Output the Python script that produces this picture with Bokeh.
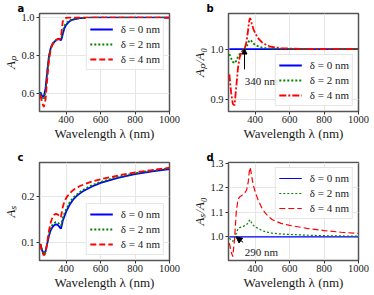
from bokeh.plotting import figure
from bokeh.layouts import gridplot
from bokeh.models import (Range1d, FixedTicker, NumeralTickFormatter, Legend, LegendItem,
                          Label, Arrow, NormalHead)
from bokeh.embed import file_html
from bokeh.resources import INLINE

# ---------------- data ----------------
wavelength = [250, 260, 270, 280, 290, 300, 310, 320, 330, 340, 350, 360, 365, 370, 375,
              380, 390, 400, 420, 440, 460, 480, 500, 550, 600, 700, 800, 900, 1000]

# panel a: A_p
ap_d0 = [0.605, 0.585, 0.582, 0.625, 0.715, 0.795, 0.838, 0.860, 0.871, 0.879, 0.885, 0.886,
         0.882, 0.881, 0.893, 0.912, 0.945, 0.962, 0.981, 0.990, 0.994, 0.997, 0.998, 0.9995,
         1.0, 1.0, 1.0, 1.0, 1.0]
ap_d2 = [0.600, 0.575, 0.566, 0.605, 0.705, 0.795, 0.840, 0.862, 0.873, 0.880, 0.886, 0.888,
         0.886, 0.890, 0.905, 0.928, 0.957, 0.971, 0.986, 0.993, 0.996, 0.998, 0.999, 1.0,
         1.0, 1.0, 1.0, 1.0, 1.0]
ap_d4 = [0.590, 0.550, 0.527, 0.565, 0.675, 0.775, 0.832, 0.857, 0.870, 0.880, 0.887, 0.889,
         0.887, 0.900, 0.940, 0.980, 0.996, 0.999, 1.0, 1.0, 1.0, 1.0, 1.0, 1.0,
         1.0, 1.0, 1.0, 1.0, 1.0]

# panel b: A_p / A_0
rp_d0 = [1.0] * 29
rp_d2 = [0.990, 0.982, 0.975, 0.972, 0.977, 0.985, 0.990, 0.994, 0.997, 1.000, 1.005, 1.012,
         1.016, 1.018, 1.017, 1.015, 1.011, 1.008, 1.005, 1.003, 1.002, 1.0015, 1.001, 1.0005,
         1.0, 1.0, 1.0, 1.0, 1.0]
rp_d4 = [0.950, 0.915, 0.892, 0.889, 0.925, 0.963, 0.984, 0.993, 0.998, 1.002, 1.015, 1.040,
         1.055, 1.061, 1.057, 1.050, 1.039, 1.031, 1.020, 1.013, 1.009, 1.006, 1.004, 1.002,
         1.001, 1.0, 1.0, 1.0, 1.0]

# panel c: A_s
as_d0 = [0.097, 0.083, 0.077, 0.081, 0.098, 0.115, 0.127, 0.134, 0.138, 0.140, 0.139, 0.135,
         0.132, 0.131, 0.139, 0.148, 0.158, 0.168, 0.183, 0.194, 0.202, 0.208, 0.213, 0.223,
         0.231, 0.242, 0.250, 0.256, 0.261]
as_d2 = [0.097, 0.082, 0.075, 0.080, 0.099, 0.118, 0.131, 0.139, 0.143, 0.145, 0.144, 0.141,
         0.138, 0.137, 0.145, 0.154, 0.164, 0.173, 0.188, 0.198, 0.205, 0.211, 0.216, 0.226,
         0.233, 0.244, 0.252, 0.258, 0.263]
as_d4 = [0.097, 0.080, 0.072, 0.077, 0.101, 0.126, 0.144, 0.155, 0.161, 0.163, 0.162, 0.158,
         0.155, 0.157, 0.168, 0.178, 0.190, 0.198, 0.208, 0.215, 0.220, 0.224, 0.227, 0.234,
         0.239, 0.247, 0.254, 0.259, 0.264]

# panel d: A_s / A_0
rs_d0 = [1.0] * 29
rs_d2 = [0.995, 0.986, 0.982, 0.995, 1.015, 1.033, 1.038, 1.040, 1.043, 1.046, 1.050, 1.058,
         1.066, 1.070, 1.064, 1.056, 1.047, 1.041, 1.033, 1.026, 1.021, 1.018, 1.015, 1.012,
         1.010, 1.007, 1.005, 1.004, 1.003]
rs_d4 = [0.975, 0.940, 0.920, 0.990, 1.100, 1.152, 1.163, 1.168, 1.173, 1.180, 1.190, 1.225,
         1.262, 1.283, 1.268, 1.245, 1.208, 1.183, 1.145, 1.116, 1.096, 1.081, 1.070, 1.055,
         1.047, 1.035, 1.026, 1.019, 1.014]

legend_labels = ["δ = 0 nm", "δ = 2 nm", "δ = 4 nm"]
x_ticks = [400, 600, 800, 1000]
x_title = "Wavelength λ (nm)"

SERIF = "Liberation Serif"
BLUE, GREEN, RED = "#0000ff", "#008000", "#ff0000"


def make_fig(letter, ytitle, w, h, bl, br, bt, bb, yr, yticks):
    p = figure(width=w, height=h, x_range=Range1d(245, 1000), y_range=Range1d(*yr),
               output_backend="svg", toolbar_location=None,
               min_border_left=bl, min_border_right=br, min_border_top=bt, min_border_bottom=bb)
    p.title.text = letter
    p.title.align = "left"
    p.title.offset = -22
    p.title.standoff = 0
    p.title.text_font = "DejaVu Sans"
    p.title.text_font_size = "10px"
    p.title.text_font_style = "bold"
    p.title.text_color = "black"

    p.xaxis.ticker = FixedTicker(ticks=x_ticks)
    p.xgrid.ticker = FixedTicker(ticks=x_ticks)
    p.yaxis.ticker = FixedTicker(ticks=yticks)
    p.ygrid.ticker = FixedTicker(ticks=yticks)
    p.xaxis.formatter = NumeralTickFormatter(format="0")
    p.yaxis.formatter = NumeralTickFormatter(format="0.0")
    for ax in p.xaxis + p.yaxis:
        ax.axis_line_color = None
        ax.major_tick_out = 3
        ax.major_tick_in = 0
        ax.minor_tick_out = 0
        ax.minor_tick_in = 0
        ax.major_tick_line_color = "#333333"
        ax.major_label_text_font = SERIF
        ax.major_label_text_font_size = "10.5px"
        ax.major_label_text_color = "#1a1a1a"
        ax.axis_label_text_font = SERIF
        ax.axis_label_text_font_size = "13px"
        ax.axis_label_text_color = "#1a1a1a"
        ax.axis_label_standoff = 0
    p.xaxis.major_label_standoff = 1
    p.yaxis.major_label_standoff = 2
    p.xaxis.axis_label = x_title
    p.xaxis.axis_label_text_font_style = "normal"
    p.yaxis.axis_label = ytitle
    p.yaxis.axis_label_text_font_style = "italic"
    for g in (p.xgrid, p.ygrid):
        g.grid_line_color = "#e6e6e6"
        g.grid_line_width = 1
    p.outline_line_color = "#555555"
    p.outline_line_width = 1.5
    p.background_fill_color = "white"
    p.border_fill_color = "white"
    return p


def add_lines(p, ys, lw, dashes):
    rs = []
    for y, c, d in zip(ys, (BLUE, GREEN, RED), dashes):
        rs.append(p.line(wavelength, y, line_color=c, line_width=lw, line_dash=d))
    return rs


def add_legend(p, rs, loc):
    items = [LegendItem(label=l, renderers=[r]) for l, r in zip(legend_labels, rs)]
    lg = Legend(items=items, location=loc, margin=5, padding=3, spacing=1,
                glyph_width=23, glyph_height=14, label_height=14, label_standoff=8,
                label_text_font=SERIF, label_text_font_size="11px", label_text_color="#1a1a1a",
                border_line_color="#cccccc", border_line_width=1,
                background_fill_color="white", background_fill_alpha=0.85)
    p.add_layout(lg)


# ---- panel a ----
pa = make_fig("a", "Aₚ", 187, 148, 38, 18, 13, 37, (0.503, 1.022), [0.6, 0.8, 1.0])
ra = add_lines(pa, [ap_d0, ap_d2, ap_d4], 1.8, ["solid", "2 2", "6 3"])
add_legend(pa, ra, "top_right")

# ---- panel b ----
pb = make_fig("b", "Aₚ/A₀", 186, 148, 41, 15, 13, 37, (0.877, 1.070), [0.9, 1.0])
rb = add_lines(pb, [rp_d0, rp_d2, rp_d4], 1.8, ["solid", "2 2", "7 2 2 2"])
add_legend(pb, rb, "bottom_right")
pb.add_layout(Arrow(end=NormalHead(size=5, fill_color="black", line_color="black"),
                    x_start=338, y_start=0.96, x_end=338, y_end=1.0,
                    line_color="black", line_width=1))
pb.add_layout(Label(x=340, y=0.937, text="340 nm", text_font=SERIF, text_font_size="11px",
                    text_align="left", text_baseline="alphabetic", text_color="#1a1a1a"))

# ---- panel c ----
pc = make_fig("c", "Aₛ", 187, 146, 38, 18, 14, 34, (0.061, 0.2755), [0.1, 0.2])
rc = add_lines(pc, [as_d0, as_d2, as_d4], 1.8, ["solid", "2 2", "6 3"])
add_legend(pc, rc, "bottom_right")

# ---- panel d ----
pd = make_fig("d", "Aₛ/A₀", 186, 146, 41, 15, 14, 34, (0.904, 1.303), [1.0, 1.1, 1.2, 1.3])
rd = add_lines(pd, [rs_d0, rs_d2, rs_d4], 1.2, ["solid", "2 2", "6 3"])
add_legend(pd, rd, "top_right")
pd.add_layout(Arrow(end=NormalHead(size=6, fill_color="black", line_color="black"),
                    x_start=330, y_start=0.978, x_end=289, y_end=1.0,
                    line_color="black", line_width=1))
pd.add_layout(Label(x=340, y=0.94, text="290 nm", text_font=SERIF, text_font_size="11px",
                    text_align="left", text_baseline="alphabetic", text_color="#1a1a1a"))

grid = gridplot([[pa, pb], [pc, pd]], toolbar_location=None)

open("out.html", "w").write(file_html(grid, INLINE))
